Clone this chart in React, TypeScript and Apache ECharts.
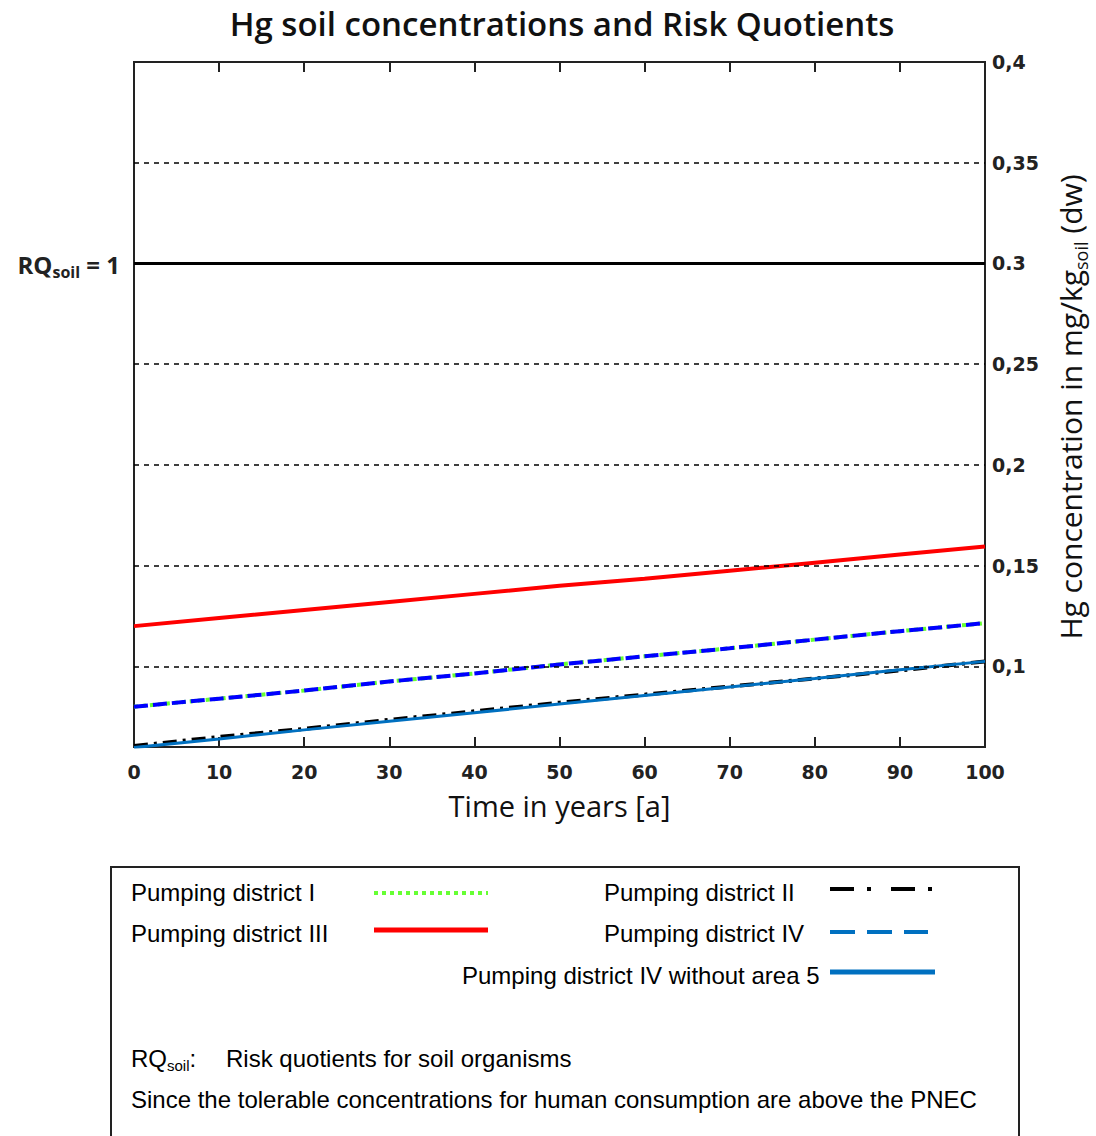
import React, { useEffect, useRef } from "react";
import * as echarts from "echarts";

const years = [0, 10, 20, 30, 40, 50, 60, 70, 80, 90, 100];
const pumpingDistrictI = [0.08, 0.084, 0.088, 0.0925, 0.0965, 0.101, 0.105, 0.109, 0.1133, 0.1175, 0.1215];
const pumpingDistrictII = [0.0605, 0.065, 0.069, 0.0735, 0.0777, 0.082, 0.086, 0.09, 0.094, 0.098, 0.1025];
const pumpingDistrictIII = [0.12, 0.124, 0.128, 0.132, 0.136, 0.14, 0.1435, 0.1475, 0.1515, 0.1555, 0.1595];
const pumpingDistrictIV = [0.08, 0.084, 0.088, 0.0925, 0.0965, 0.101, 0.105, 0.109, 0.1133, 0.1175, 0.1215];
const pumpingDistrictIVwo5 = [0.0597, 0.064, 0.0685, 0.0728, 0.077, 0.0813, 0.0856, 0.0898, 0.094, 0.0983, 0.1025];
const rqLevel = 0.3;
const gridLevels = [0.1, 0.15, 0.2, 0.25, 0.35];
const yTickValues = [0.1, 0.15, 0.2, 0.25, 0.3, 0.35, 0.4];
const yTickLabels = ["0,1", "0,15", "0,2", "0,25", "0.3", "0,35", "0,4"];
const yMin = 0.06;
const yMax = 0.4;

const toPts = (arr: number[]) => years.map((x, i) => [x, arr[i]]);

export default function App() {
  const ref = useRef<HTMLDivElement>(null);
  useEffect(() => {
    if (!ref.current) return;
    const chart = echarts.init(ref.current, null, { renderer: "svg" });
    const lf = "'Liberation Sans', Arial, sans-serif";
    const cf = "'Open Sans', sans-serif";
    const df = "'DejaVu Sans', sans-serif";
    chart.setOption({
      animation: false,
      backgroundColor: "#fff",
      title: {
        text: "Hg soil concentrations and Risk Quotients",
        left: 557,
        textAlign: "center",
        top: 2,
        textStyle: { fontFamily: cf, fontSize: 33, fontWeight: 600, color: "#111" },
      },
      grid: { left: 134, right: 111, top: 62, bottom: 389, show: true, borderColor: "#222", borderWidth: 2, backgroundColor: "#fff" },
      xAxis: [
        {
          type: "value",
          min: 0,
          max: 100,
          interval: 10,
          position: "bottom",
          axisLine: { show: true, lineStyle: { color: "#222", width: 2 } },
          axisTick: { show: true, inside: true, length: 10, lineStyle: { color: "#222", width: 2 } },
          axisLabel: { fontFamily: df, fontSize: 19, fontWeight: "bold", color: "#222", margin: 15 },
          splitLine: { show: false },
          name: "Time in years [a]",
          nameLocation: "middle",
          nameGap: 44,
          nameTextStyle: { fontFamily: cf, fontSize: 29, color: "#111" },
        },
        {
          type: "value",
          min: 0,
          max: 100,
          interval: 10,
          position: "top",
          axisLine: { show: true, lineStyle: { color: "#222", width: 2 } },
          axisTick: { show: true, inside: true, length: 10, lineStyle: { color: "#222", width: 2 } },
          axisLabel: { show: false },
          splitLine: { show: false },
        },
      ],
      yAxis: {
        type: "value",
        position: "right",
        min: yMin,
        max: yMax,
        axisLine: { show: true, lineStyle: { color: "#222", width: 2 } },
        axisTick: { show: false },
        splitLine: { show: false },
        axisLabel: {
          customValues: yTickValues,
          fontFamily: df,
          fontSize: 19,
          fontWeight: "bold",
          color: "#222",
          margin: 7,
          verticalAlign: "middle",
          formatter: (v: number) => {
            const i = yTickValues.findIndex((t) => Math.abs(t - v) < 1e-9);
            return i >= 0 ? yTickLabels[i] : "";
          },
        },
      },
      series: [
        {
          name: "RQ",
          type: "line",
          showSymbol: false,
          data: [[0, rqLevel], [100, rqLevel]],
          lineStyle: { color: "#000", width: 3 },
          z: 1,
          markLine: {
            silent: true,
            symbol: "none",
            label: { show: false },
            lineStyle: { color: "#000", width: 1.5, type: [5, 5] },
            data: gridLevels.map((v) => ({ yAxis: v })),
          },
        },
        {
          name: "Pumping district II",
          type: "line",
          showSymbol: false,
          data: toPts(pumpingDistrictII),
          lineStyle: { color: "#000", width: 4, type: [14, 6, 3, 6] },
          z: 2,
        },
        {
          name: "Pumping district IV without area 5",
          type: "line",
          showSymbol: false,
          data: toPts(pumpingDistrictIVwo5),
          lineStyle: { color: "#0070c0", width: 3 },
          z: 3,
        },
        {
          name: "Pumping district I",
          type: "line",
          showSymbol: false,
          data: toPts(pumpingDistrictI),
          lineStyle: { color: "#66ff33", width: 4, type: [4, 4] },
          z: 2,
        },
        {
          name: "Pumping district IV",
          type: "line",
          showSymbol: false,
          data: toPts(pumpingDistrictIV),
          lineStyle: { color: "#0000ff", width: 4, type: [14, 5] },
          z: 3,
        },
        {
          name: "Pumping district III",
          type: "line",
          showSymbol: false,
          data: toPts(pumpingDistrictIII),
          lineStyle: { color: "#ff0000", width: 4 },
          z: 3,
        },
      ],
      graphic: [
        {
          type: "text",
          x: 120,
          y: 264,
          style: {
            text: "{a|RQ}{b|soil}{a| = 1}",
            align: "right",
            verticalAlign: "middle",
            rich: {
              a: { fontFamily: cf, fontSize: 24, fontWeight: "bold", fill: "#222", lineHeight: 32, verticalAlign: "middle" },
              b: { fontFamily: cf, fontSize: 16, fontWeight: "bold", fill: "#222", lineHeight: 16, verticalAlign: "bottom" },
            },
          },
        },
        {
          type: "text",
          x: 1070,
          y: 407,
          rotation: Math.PI / 2,
          style: {
            text: "{a|Hg concentration in mg/kg}{b|soil}{a| (dw)}",
            align: "center",
            verticalAlign: "middle",
            rich: {
              a: { fontFamily: cf, fontSize: 30, fill: "#111", lineHeight: 40, verticalAlign: "middle" },
              b: { fontFamily: cf, fontSize: 18, fill: "#111", lineHeight: 18, verticalAlign: "bottom" },
            },
          },
        },
        {
          type: "rect",
          shape: { x: 111, y: 867, width: 908, height: 320 },
          style: { fill: "#fff", stroke: "#222", lineWidth: 2 },
          z: 0,
        },
        ...[
          { t: "Pumping district I", x: 131, y: 892 },
          { t: "Pumping district II", x: 604, y: 892 },
          { t: "Pumping district III", x: 131, y: 933 },
          { t: "Pumping district IV", x: 604, y: 933 },
          { t: "Pumping district IV without area 5", x: 462, y: 975 },
          { t: "Risk quotients for soil organisms", x: 226, y: 1058 },
          { t: "Since the tolerable concentrations for human consumption are above the PNEC", x: 131, y: 1099 },
        ].map((d) => ({
          type: "text",
          x: d.x,
          y: d.y,
          z: 5,
          style: { text: d.t, fontFamily: lf, fontSize: 24, fill: "#000", align: "left", verticalAlign: "middle" },
        })),
        {
          type: "text",
          x: 131,
          y: 1058,
          z: 5,
          style: {
            text: "{a|RQ}{b|soil}{a|:}",
            align: "left",
            verticalAlign: "middle",
            rich: {
              a: { fontFamily: lf, fontSize: 24, fill: "#000", lineHeight: 30, verticalAlign: "middle" },
              b: { fontFamily: lf, fontSize: 15, fill: "#000", lineHeight: 15, verticalAlign: "bottom" },
            },
          },
        },
        { type: "line", z: 5, shape: { x1: 374, y1: 893, x2: 488, y2: 893 }, style: { stroke: "#66ff33", lineWidth: 4, lineDash: [4, 4] } },
        { type: "line", z: 5, shape: { x1: 830, y1: 889, x2: 932, y2: 889 }, style: { stroke: "#000", lineWidth: 4, lineDash: [24, 13, 4, 20] } },
        { type: "line", z: 5, shape: { x1: 374, y1: 930, x2: 488, y2: 930 }, style: { stroke: "#ff0000", lineWidth: 5 } },
        { type: "line", z: 5, shape: { x1: 830, y1: 932, x2: 928, y2: 932 }, style: { stroke: "#0070c0", lineWidth: 4, lineDash: [25, 12] } },
        { type: "line", z: 5, shape: { x1: 830, y1: 972, x2: 935, y2: 972 }, style: { stroke: "#0070c0", lineWidth: 5 } },
      ],
    });
    return () => chart.dispose();
  }, []);
  return <div ref={ref} style={{ position: "absolute", left: 0, top: 0, width: 1096, height: 1136 }} />;
}
